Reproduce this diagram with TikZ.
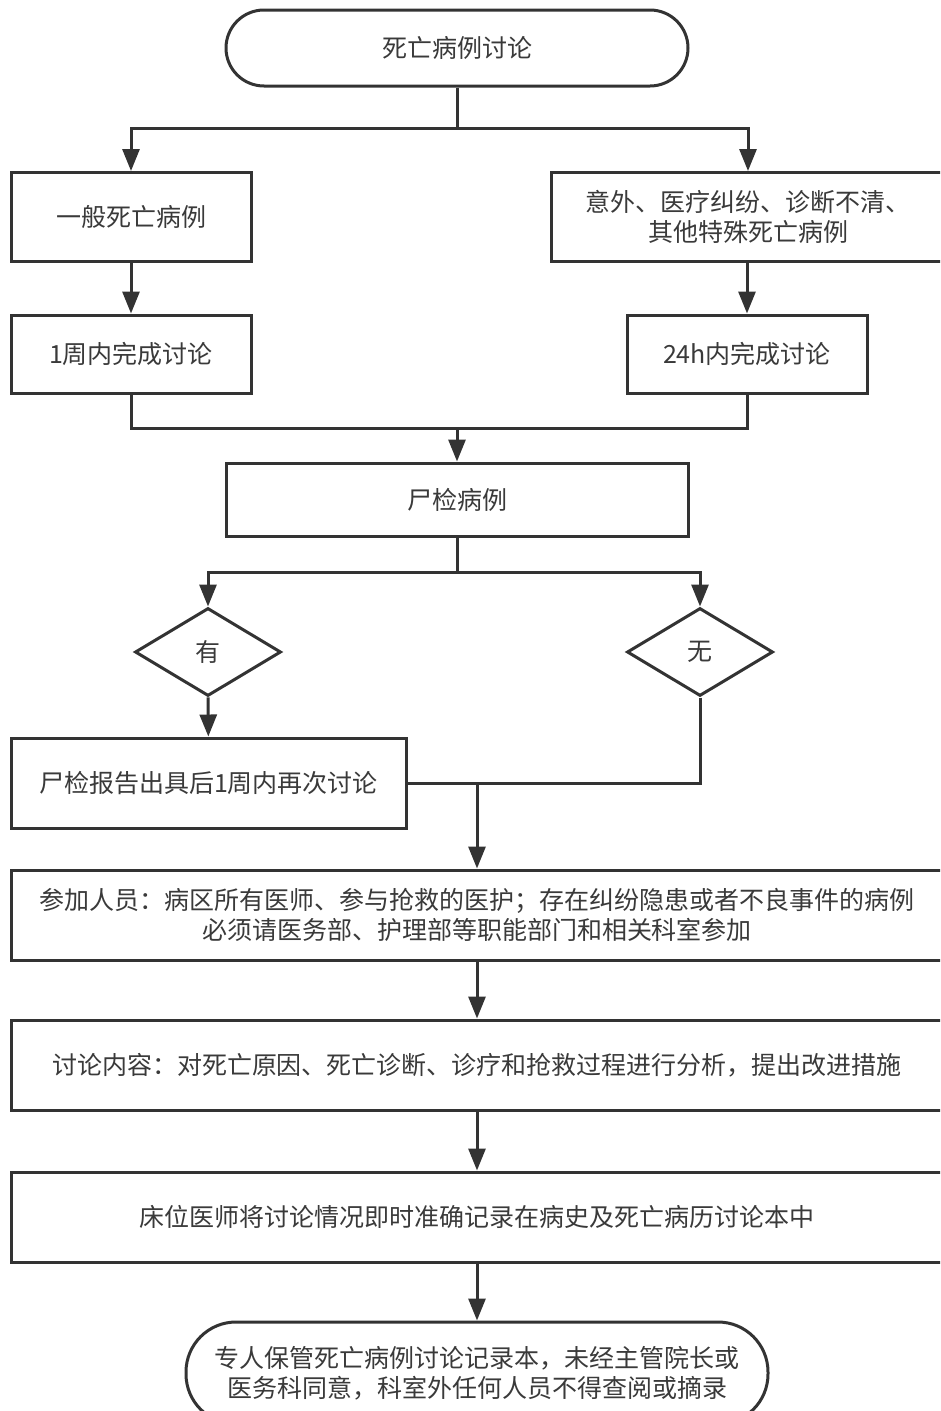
\documentclass[tikz,border=0pt]{standalone}
\usepackage{fontspec}
\newfontfamily\cjk{Noto Sans CJK SC}
\usetikzlibrary{shapes.geometric,arrows.meta}
\definecolor{lc}{HTML}{333333}
\definecolor{tc}{HTML}{3A3A3A}
\begin{document}
\begin{tikzpicture}[x=1pt,y=-1pt,
  every node/.style={font=\cjk\fontsize{25pt}{30pt}\selectfont, text=tc, align=center, inner sep=0pt},
  box/.style={draw=lc, line width=3pt, fill=white, rectangle},
  term/.style={box, rounded corners=#1},
  dec/.style={draw=lc, line width=3pt, fill=white, diamond, aspect=1.66, minimum width=146pt, minimum height=88pt},
  ln/.style={draw=lc, line width=3pt},
  arr/.style={ln, -{Triangle[length=22pt,width=17pt]}}]
\useasboundingbox (0,0) rectangle (940,1411);
\clip (0,0) rectangle (940,1411);

% start and first split
\node[term=38pt, minimum width=462pt, minimum height=76pt] (start) at (457,48) {死亡病例讨论};
\node[box, minimum width=240pt, minimum height=89pt] (a1) at (131,217) {一般死亡病例};
\node[box, minimum width=394pt, minimum height=89pt] (a2) at (748,217) {意外、医疗纠纷、诊断不清、\\其他特殊死亡病例};
\node[box, minimum width=240pt, minimum height=78pt] (b1) at (131,354) {1周内完成讨论};
\node[box, minimum width=240pt, minimum height=78pt] (b2) at (747,354) {24h内完成讨论};

% autopsy branch
\node[box, minimum width=462pt, minimum height=73pt] (c) at (457,499.5) {尸检病例};
\node[dec] (d1) at (208,652) {有};
\node[dec] (d2) at (700,652) {无};
\node[box, minimum width=395pt, minimum height=90pt] (e) at (208.5,783) {尸检报告出具后1周内再次讨论};

% common steps
\node[box, minimum width=932pt, minimum height=90pt] (f) at (477,915) {参加人员：病区所有医师、参与抢救的医护；存在纠纷隐患或者不良事件的病例\\必须请医务部、护理部等职能部门和相关科室参加};
\node[box, minimum width=932pt, minimum height=90pt] (g) at (477,1065) {讨论内容：对死亡原因、死亡诊断、诊疗和抢救过程进行分析，提出改进措施};
\node[box, minimum width=932pt, minimum height=90pt] (h) at (477,1217) {床位医师将讨论情况即时准确记录在病史及死亡病历讨论本中};
\node[term=50pt, minimum width=582pt, minimum height=102pt] (end) at (477,1373) {专人保管死亡病例讨论记录本，未经主管院长或\\医务科同意，科室外任何人员不得查阅或摘录};

% junction points
\coordinate (j1) at (457,128);
\coordinate (j2) at (457,428);
\coordinate (j3) at (457,572);
\coordinate (j4) at (477,783);

% connectors
\draw[ln] (start) -- (j1);
\draw[arr] (j1) -| (a1);
\draw[arr] (j1) -| (a2);
\draw[arr] (a1) -- (b1);
\draw[arr] (a2.south -| b2) -- (b2);
\draw[ln] (b1) |- (j2) -| (b2);
\draw[arr] (j2) -- (c);
\draw[ln] (c) -- (j3);
\draw[arr] (j3) -| (d1);
\draw[arr] (j3) -| (d2);
\draw[arr] (d1) -- (e);
\draw[ln] (d2) |- (e);
\draw[arr] (j4) -- (f);
\draw[arr] (f) -- (g);
\draw[arr] (g) -- (h);
\draw[arr] (h) -- (end);
\end{tikzpicture}
\end{document}
